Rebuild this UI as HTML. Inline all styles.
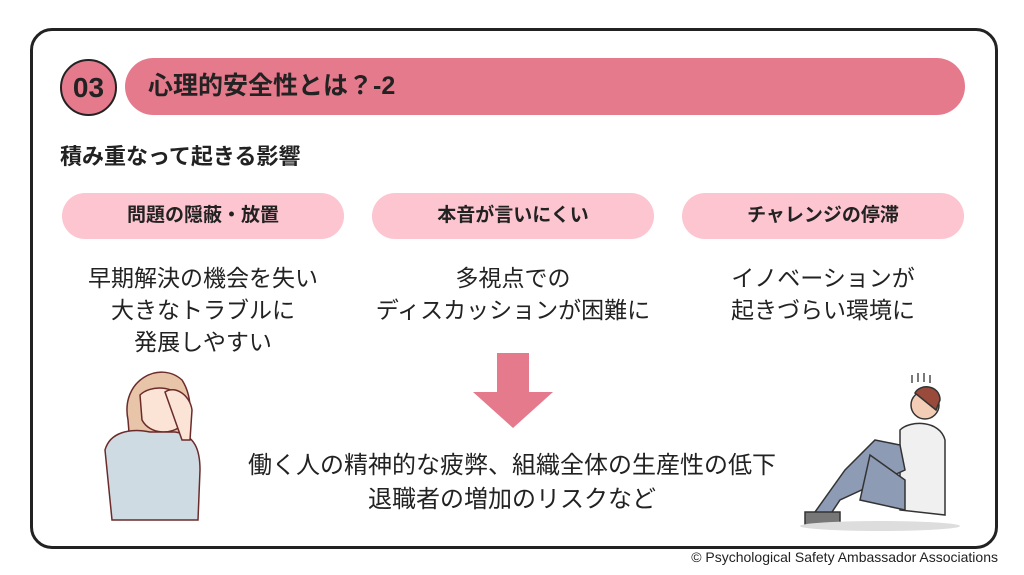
<!DOCTYPE html>
<html><head><meta charset="utf-8"><style>
body{margin:0;width:1024px;height:575px;background:#fff;position:relative;overflow:hidden;font-family:"Liberation Sans","Noto Sans CJK JP",sans-serif;color:#222}
.a{position:absolute}
.frame{left:30px;top:28px;width:962px;height:515px;border:3px solid #222;border-radius:22px}
.circ{left:60px;top:59px;width:53px;height:53px;border:2.5px solid #222;border-radius:50%;background:#e57a8c;font-weight:bold;font-size:28px;line-height:53px;text-align:center}
.bar{left:125px;top:58px;width:840px;height:57px;border-radius:29px;background:#e57a8c;font-weight:bold;font-size:25px;line-height:57px;padding-left:23px;box-sizing:border-box;color:#222}
.sub{left:60px;top:142px;font-size:22px;font-weight:bold;line-height:30px}
.pill{top:193px;width:282px;height:46px;border-radius:23px;background:#fcc5d0;font-size:19px;font-weight:bold;text-align:center;line-height:46px}
.body{top:262px;width:302px;text-align:center;font-size:23px;line-height:32px;color:#222}
.bot{left:150px;top:449px;width:724px;text-align:center;font-size:24px;line-height:34px}
.copy{right:26px;top:549px;font-size:14px;color:#222}
</style></head><body>
<div class="a frame"></div>
<div class="a circ">03</div>
<div class="a bar">心理的安全性とは？-2</div>
<div class="a sub">積み重なって起きる影響</div>
<div class="a pill" style="left:62px">問題の隠蔽・放置</div>
<div class="a pill" style="left:372px">本音が言いにくい</div>
<div class="a pill" style="left:682px">チャレンジの停滞</div>
<div class="a body" style="left:52px">早期解決の機会を失い<br>大きなトラブルに<br>発展しやすい</div>
<div class="a body" style="left:362px">多視点での<br>ディスカッションが困難に</div>
<div class="a body" style="left:672px">イノベーションが<br>起きづらい環境に</div>
<svg class="a" style="left:0;top:0" width="1024" height="575">
<polygon points="497,353 529,353 529,392 553,392 513,428 473,392 497,392" fill="#e57a8c"/>
<g stroke="#6b2b2b" stroke-width="1.5">
<path d="M128,420 C120,380 160,360 182,380 C195,400 190,430 185,440 L130,445 Z" fill="#e8c4a8"/>
<path d="M140,395 C150,385 175,385 182,400 L182,425 C172,435 150,435 142,420 Z" fill="#fbe3d6"/>
<path d="M105,450 C110,432 130,428 150,432 L175,432 C195,435 200,450 200,470 L198,520 L112,520 Z" fill="#cfdbe3"/>
<path d="M165,392 C175,385 190,395 192,410 L190,440 L182,440 Z" fill="#fbe3d6"/>
</g>
<g stroke="#333" stroke-width="1.5">
<circle cx="925" cy="405" r="14" fill="#f4cdb6"/>
<path d="M915,393 C920,383 940,385 940,400 L936,410 Z" fill="#9a4a3a"/>
<path d="M900,430 C910,420 940,420 945,440 L945,515 L900,510 Z" fill="#f0f0f0"/>
<path d="M875,440 L900,445 L905,470 L840,500 L830,515 L815,512 L845,470 Z" fill="#8e9bb5"/>
<path d="M870,455 L905,480 L905,510 L860,500 Z" fill="#8e9bb5"/>
<path d="M805,512 L840,512 L840,525 L805,525 Z" fill="#777"/>
</g>
<ellipse cx="880" cy="526" rx="80" ry="5" fill="#ddd"/>
<g stroke="#333" stroke-width="1.3"><line x1="912" y1="375" x2="912" y2="383"/><line x1="918" y1="373" x2="918" y2="382"/><line x1="924" y1="373" x2="924" y2="382"/><line x1="930" y1="375" x2="930" y2="383"/></g>
</svg>
<div class="a bot">働く人の精神的な疲弊、組織全体の生産性の低下<br>退職者の増加のリスクなど</div>
<div class="a copy">© Psychological Safety Ambassador Associations</div>
</body></html>
